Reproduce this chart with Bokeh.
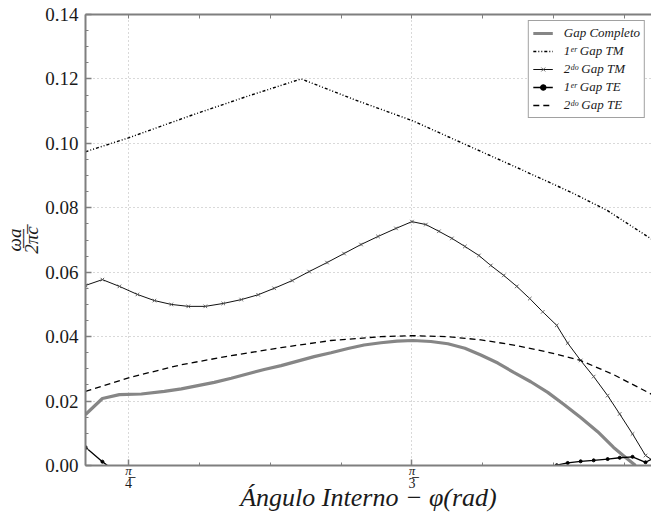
import numpy as np
from bokeh.plotting import figure
from bokeh.models import Range1d, FixedTicker, LinearAxis, Legend, LegendItem, NumeralTickFormatter
from bokeh.embed import file_html
from bokeh.resources import INLINE

# ---------------- data ----------------
X_START, X_END = 0.7458, 1.2684
Y_START, Y_END = 0.0, 0.14

x_ticks = [np.pi / 4, np.pi / 3]
x_tick_num = ["\u03c0", "\u03c0"]
x_tick_den = ["4\u0305", "3\u0305"]
y_ticks = [0.00, 0.02, 0.04, 0.06, 0.08, 0.10, 0.12, 0.14]

x_title = "\u00c1ngulo Interno \u2212 \u03c6(rad)"
y_title_num = "\u03c9a"
y_title_den = "2\u0305\u03c0\u0305c\u0305"

# Gap Completo
x_gap = [0.7458, 0.7614, 0.7771, 0.7974, 0.8186, 0.8343, 0.8647, 0.8804, 0.9108, 0.9264,
         0.9569, 0.9725, 0.9882, 1.0030, 1.0186, 1.0334, 1.0481, 1.0647, 1.0804, 1.0961,
         1.1108, 1.1265, 1.1412, 1.1569, 1.1726, 1.1873, 1.2030, 1.2187, 1.2334, 1.2445, 1.2537]
y_gap = [0.0158, 0.0208, 0.0220, 0.0222, 0.0230, 0.0238, 0.0258, 0.0271, 0.0298, 0.0310,
         0.0338, 0.0350, 0.0363, 0.0374, 0.0381, 0.0386, 0.0388, 0.0385, 0.0378, 0.0364,
         0.0343, 0.0318, 0.0289, 0.0260, 0.0227, 0.0190, 0.0149, 0.0105, 0.0056, 0.0025, 0.0000]

# 1er Gap TM
x_tm1 = [0.7458, 0.7854, 0.8453, 0.8951, 0.9449, 0.9947, 1.0472, 1.0942, 1.1440, 1.1942,
         1.2274, 1.2638, 1.2749]
y_tm1 = [0.0974, 0.1017, 0.1089, 0.1146, 0.1200, 0.1135, 0.1071, 0.1000, 0.0925, 0.0848,
         0.0792, 0.0713, 0.0689]

# 2do Gap TM
x_tm2 = [0.7458, 0.7614, 0.7771, 0.7937, 0.8094, 0.8250, 0.8407, 0.8564, 0.8730, 0.8896,
         0.9052, 0.9200, 0.9366, 0.9523, 0.9688, 0.9845, 1.0002, 1.0159, 1.0325, 1.0472,
         1.0601, 1.0721, 1.0841, 1.0961, 1.1090, 1.1200, 1.1320, 1.1440, 1.1560, 1.1680,
         1.1809, 1.1910, 1.2030, 1.2150, 1.2279, 1.2390, 1.2509, 1.2629, 1.2749]
y_tm2 = [0.0559, 0.0577, 0.0556, 0.0531, 0.0512, 0.0500, 0.0494, 0.0494, 0.0503, 0.0515,
         0.0530, 0.0550, 0.0574, 0.0602, 0.0630, 0.0658, 0.0686, 0.0711, 0.0736, 0.0757,
         0.0748, 0.0727, 0.0705, 0.0680, 0.0652, 0.0621, 0.0590, 0.0556, 0.0518, 0.0477,
         0.0435, 0.0380, 0.0326, 0.0276, 0.0217, 0.0160, 0.0098, 0.0031, 0.0003]

# 1er Gap TE (gap in the middle: values below zero, not shown)
x_te1 = [0.7458, 0.7614, 0.7771, np.nan, 1.1809, 1.1910, 1.2030, 1.2150, 1.2279, 1.2390,
         1.2509, 1.2629, 1.2749]
y_te1 = [0.0057, 0.0012, -0.0029, np.nan, 0.0001, 0.0008, 0.0013, 0.0016, 0.0020, 0.0024,
         0.0027, 0.0010, 0.0030]

# 2do Gap TE
x_te2 = [0.7458, 0.7863, 0.8343, 0.8804, 0.9264, 0.9725, 1.0186, 1.0481, 1.0804, 1.1108,
         1.1412, 1.1726, 1.2030, 1.2334, 1.2749]
y_te2 = [0.0230, 0.0273, 0.0313, 0.0341, 0.0366, 0.0388, 0.0400, 0.0403, 0.0400, 0.0390,
         0.0374, 0.0352, 0.0326, 0.0282, 0.0210]

labels = ["Gap Completo", "1\u1d49\u02b3 Gap TM", "2\u1d48\u1d52 Gap TM",
          "1\u1d49\u02b3 Gap TE", "2\u1d48\u1d52 Gap TE"]

# ---------------- figure ----------------
SERIF = "Liberation Serif"
SPINE = "#7f7f7f"
TXT = "#1a1a1a"

p = figure(width=651, height=527, output_backend="svg", toolbar_location=None, title=None,
           x_range=Range1d(X_START, X_END), y_range=Range1d(Y_START, Y_END),
           min_border_left=84, min_border_right=0, min_border_top=14, min_border_bottom=62)
p.outline_line_color = None
p.background_fill_color = "white"
p.border_fill_color = "white"

x_minor = [np.pi / 4 + k * np.pi / 48 for k in range(-1, 9)]
y_minor = [k * 0.005 for k in range(0, 29)]
xticker = FixedTicker(ticks=x_ticks, minor_ticks=x_minor)
yticker = FixedTicker(ticks=y_ticks, minor_ticks=y_minor)
noticks = FixedTicker(ticks=[], minor_ticks=[])


def style_axis(ax):
    ax.axis_line_color = SPINE
    ax.axis_line_width = 2
    ax.major_tick_line_color = SPINE
    ax.major_tick_line_width = 1.5
    ax.major_tick_in = 6
    ax.major_tick_out = 0
    ax.minor_tick_line_color = SPINE
    ax.minor_tick_line_width = 1
    ax.minor_tick_in = 3
    ax.minor_tick_out = 0


def bare_axis(ax):
    ax.axis_line_color = None
    ax.major_tick_line_color = None
    ax.minor_tick_line_color = None
    ax.major_tick_in = 0
    ax.major_tick_out = 0
    ax.minor_tick_in = 0
    ax.minor_tick_out = 0


# bottom: main axis with the numerators (pi)
xa = p.xaxis[0]
xa.ticker = xticker
style_axis(xa)
xa.major_label_overrides = {t: s for t, s in zip(x_ticks, x_tick_num)}
xa.major_label_text_font = SERIF
xa.major_label_text_font_style = "italic"
xa.major_label_text_font_size = "13px"
xa.major_label_text_color = TXT
xa.major_label_standoff = -3

# bottom: second axis with denominators and the x title
xc = LinearAxis(ticker=FixedTicker(ticks=x_ticks))
bare_axis(xc)
xc.major_label_overrides = {t: s for t, s in zip(x_ticks, x_tick_den)}
xc.major_label_text_font = SERIF
xc.major_label_text_font_size = "14px"
xc.major_label_text_color = TXT
xc.major_label_standoff = -5
xc.axis_label = x_title
xc.axis_label_text_font = SERIF
xc.axis_label_text_font_style = "italic"
xc.axis_label_text_font_size = "26px"
xc.axis_label_text_color = TXT
xc.axis_label_standoff = -11
p.add_layout(xc, "below")

# left: main axis with tick labels and the denominator of the title
ya = p.yaxis[0]
ya.ticker = yticker
style_axis(ya)
ya.formatter = NumeralTickFormatter(format="0.00")
ya.major_label_text_font = SERIF
ya.major_label_text_font_size = "19px"
ya.major_label_text_color = TXT
ya.major_label_standoff = 7
ya.axis_label = y_title_den
ya.axis_label_text_font = SERIF
ya.axis_label_text_font_style = "italic"
ya.axis_label_text_font_size = "19px"
ya.axis_label_text_color = TXT
ya.axis_label_standoff = 0

yc = LinearAxis(ticker=noticks)
bare_axis(yc)
yc.axis_label = y_title_num
yc.axis_label_text_font = SERIF
yc.axis_label_text_font_style = "italic"
yc.axis_label_text_font_size = "19px"
yc.axis_label_text_color = TXT
yc.axis_label_standoff = -6
p.add_layout(yc, "left")

# top spine with inward ticks
top = LinearAxis(ticker=FixedTicker(ticks=[], minor_ticks=x_minor))
style_axis(top)
top.minor_tick_in = 4
p.add_layout(top, "above")

for g in (p.xgrid[0], p.ygrid[0]):
    g.grid_line_color = "#b3b3b3"
    g.grid_line_dash = "1 3"
    g.grid_line_width = 1
p.xgrid[0].ticker = FixedTicker(ticks=x_ticks)
p.ygrid[0].ticker = FixedTicker(ticks=y_ticks[1:-1])

# ---------------- series ----------------
r_gap = p.line(x_gap, y_gap, line_color="#868686", line_width=3.2)
r_tm1 = p.line(x_tm1, y_tm1, line_color="black", line_width=1.4, line_dash="3 2 1 2 1 2")
r_tm2 = p.line(x_tm2, y_tm2, line_color="#111111", line_width=1.0)
r_tm2m = p.scatter(x_tm2, y_tm2, marker="x", size=5, line_color="#555555", line_width=0.9)
r_te1 = p.line(x_te1, y_te1, line_color="black", line_width=1.3)
r_te1m = p.scatter(x_te1, y_te1, marker="circle", size=3, fill_color="black", line_color="black")
r_te2 = p.line(x_te2, y_te2, line_color="black", line_width=1.3, line_dash="6 4")

legend = Legend(items=[
    LegendItem(label=labels[0], renderers=[r_gap]),
    LegendItem(label=labels[1], renderers=[r_tm1]),
    LegendItem(label=labels[2], renderers=[r_tm2, r_tm2m]),
    LegendItem(label=labels[3], renderers=[r_te1, r_te1m]),
    LegendItem(label=labels[4], renderers=[r_te2]),
], location="top_right")
legend.label_text_font = SERIF
legend.label_text_font_style = "italic"
legend.label_text_font_size = "13px"
legend.label_text_color = TXT
legend.label_height = 14
legend.glyph_height = 14
legend.glyph_width = 20
legend.label_standoff = 11
legend.spacing = 2
legend.padding = 4
legend.margin = 6
legend.border_line_color = "#444444"
legend.border_line_width = 1
legend.background_fill_alpha = 1
p.add_layout(legend)

open("out.html", "w").write(file_html(p, INLINE))
